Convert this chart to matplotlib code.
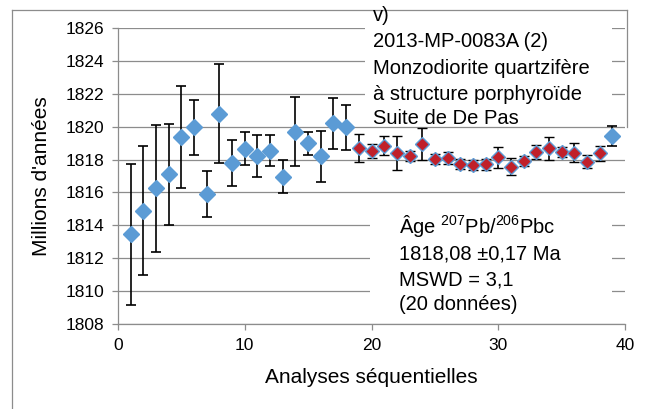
import matplotlib
matplotlib.use("Agg")
import matplotlib.pyplot as plt
from matplotlib.patches import Rectangle
from matplotlib.lines import Line2D

plt.rcParams['font.family'] = ['Liberation Sans', 'DejaVu Sans']
plt.rcParams['mathtext.fontset'] = 'custom'
plt.rcParams['mathtext.rm'] = 'Liberation Sans'

# analyses excluded from the mean (blue)
x_out = list(range(1, 19)) + [39]
age_out = [1813.45, 1814.9, 1816.25, 1817.1, 1819.35, 1819.95, 1815.9, 1820.8,
           1817.8, 1818.65, 1818.2, 1818.55, 1816.95, 1819.7, 1819.0, 1818.2,
           1820.2, 1819.95, 1819.45]
err_out = [4.3, 3.9, 3.85, 3.05, 3.1, 1.65, 1.4, 3.0, 1.4, 1.0, 1.27, 0.92,
           1.0, 2.1, 0.7, 1.55, 1.55, 1.35, 0.6]

# analyses used for the mean age (red)
x_in = list(range(19, 39))
age_in = [1818.68, 1818.52, 1818.85, 1818.4, 1818.23, 1818.94, 1818.03, 1818.09,
          1817.75, 1817.65, 1817.7, 1818.13, 1817.57, 1817.91, 1818.44, 1818.68,
          1818.48, 1818.42, 1817.87, 1818.38]
err_in = [0.85, 0.4, 0.6, 1.03, 0.3, 0.95, 0.3, 0.35, 0.3, 0.3, 0.35, 0.64,
          0.5, 0.3, 0.42, 0.68, 0.3, 0.56, 0.4, 0.47]

title_lines = ["v)", "2013-MP-0083A (2)", "Monzodiorite quartzifère",
               "à structure porphyroïde", "Suite de De Pas"]
age_lines = [r"Âge $\mathregular{^{207}}$Pb/$\mathregular{^{206}}$Pbc",
             "1818,08 ±0,17 Ma", "MSWD = 3,1", "(20 données)"]

W, H = 654, 409
BLUE = '#5B9BD5'
RED = '#C0202A'
GRID = '#8C8C8C'


def fx(px):
    return px / W


def fy(py):
    return 1 - py / H


fig = plt.figure(figsize=(W / 100, H / 100), dpi=100)
ax = fig.add_axes([fx(118), fy(324), fx(625) - fx(118), fy(28) - fy(324)])

ax.errorbar(x_out, age_out, yerr=err_out, fmt='D', color=BLUE, ms=8.0,
            mec=BLUE, ecolor='black', elinewidth=1.2, capsize=3.3,
            capthick=1.2, zorder=3)
ax.errorbar(x_in, age_in, yerr=err_in, fmt='D', color=RED, ms=7.6,
            mec=BLUE, mew=1.0, ecolor='black', elinewidth=1.2, capsize=3.3,
            capthick=1.2, zorder=3)

ax.set_xlim(0, 40)
ax.set_ylim(1808, 1826)
ax.set_xticks(range(0, 41, 10))
ax.set_yticks(range(1808, 1827, 2))
ax.yaxis.grid(True, color=GRID, linewidth=0.9)
ax.set_axisbelow(True)
for side in ['top', 'right']:
    ax.spines[side].set_visible(False)
for side in ['left', 'bottom']:
    ax.spines[side].set_color(GRID)
    ax.spines[side].set_linewidth(0.9)
ax.tick_params(axis='both', colors=GRID, labelcolor='black', labelsize=12.5,
               length=4, width=0.9)
ax.tick_params(axis='y', pad=6)
ax.tick_params(axis='x', pad=6)
ax.set_xlabel('Analyses séquentielles', fontsize=15, labelpad=11)
ax.set_ylabel("Millions d'années", fontsize=15, labelpad=10)

# white boxes behind the annotations hide the gridlines
for (x0, y0, x1, y1) in [(365, 10, 612, 124), (370, 200, 612, 316)]:
    ax.add_patch(Rectangle((fx(x0), fy(y1)), fx(x1) - fx(x0), fy(y0) - fy(y1),
                           transform=fig.transFigure, facecolor='white',
                           edgecolor='none', zorder=1, clip_on=False))

for line, base in zip(title_lines, [21, 47, 74, 100, 124]):
    fig.text(fx(373), fy(base), line, fontsize=14.5, va='baseline', ha='left')
for line, base in zip(age_lines, [233, 259, 285, 310]):
    fig.text(fx(399), fy(base), line, fontsize=14.5, va='baseline', ha='left')

# chart frame
frame = '#8C8C8C'
fig.add_artist(Line2D([fx(12), fx(12)], [fy(409), fy(10)], color=frame, lw=0.9))
fig.add_artist(Line2D([fx(12), fx(627)], [fy(10), fy(10)], color=frame, lw=0.9))
fig.add_artist(Line2D([fx(627), fx(627)], [fy(10), fy(127)], color=frame, lw=0.9))

fig.savefig('out.png', dpi=100)
